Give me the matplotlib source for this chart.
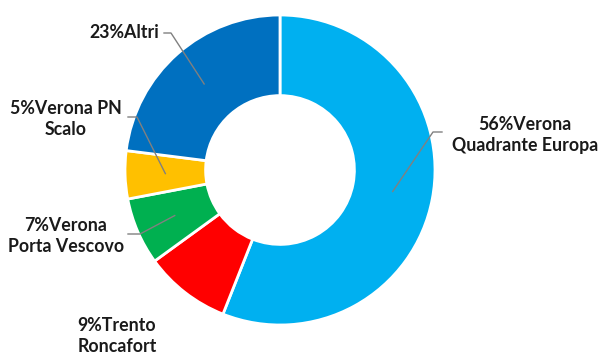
import matplotlib
matplotlib.use("Agg")
import matplotlib.pyplot as plt
import numpy as np

labels = ["Verona\nQuadrante Europa", "Trento\nRoncafort", "Verona\nPorta Vescovo", "Verona PN\nScalo", "Altri"]
values = [56, 9, 7, 5, 23]
colors = ["#00B0F0", "#FF0000", "#00B050", "#FFC000", "#0070C0"]

W, H = 602, 356
cx, cy, R = 280, 170, 155

fig = plt.figure(figsize=(W / 100, H / 100), dpi=100)
ax = fig.add_axes([0, 0, 1, 1])

wedges, _ = ax.pie(values, colors=colors, startangle=90, counterclock=False,
                   radius=1.0, wedgeprops=dict(width=0.52, edgecolor="white", linewidth=2))
ax.set_xlim(-cx / R, (W - cx) / R)
ax.set_ylim((cy - H) / R, cy / R)
ax.set_aspect("auto")
ax.axis("off")

def px(x, y):
    return (x - cx) / R, (cy - y) / R

# label layout: (text center px, elbow start px, elbow end px, show line)
layout = [
    ((525, 135), (442, 132), (433, 132), True),
    ((117, 336), None, None, False),
    ((66, 236), (128, 234), (140, 234), True),
    ((66, 119), (128, 117), (137, 117), True),
    ((124, 33), (164, 33), (171, 33), True),
]

for w, lab, val, (tc, p0, p1, show) in zip(wedges, labels, values, layout):
    tx, ty = px(*tc)
    ax.text(tx, ty, f"{val}%{lab}", ha="center", va="center", fontsize=12.8,
            fontweight="bold", family="Lato", color="#1a1a1a", linespacing=1.3)
    if show:
        ang = np.deg2rad((w.theta1 + w.theta2) / 2)
        rm = 1.0 - 0.52 / 2
        ex, ey = rm * np.cos(ang), rm * np.sin(ang)
        a = px(*p0)
        b = px(*p1)
        ax.plot([a[0], b[0], ex], [a[1], b[1], ey], color="#808080", lw=1, clip_on=False)

fig.savefig("out.png", dpi=100)
